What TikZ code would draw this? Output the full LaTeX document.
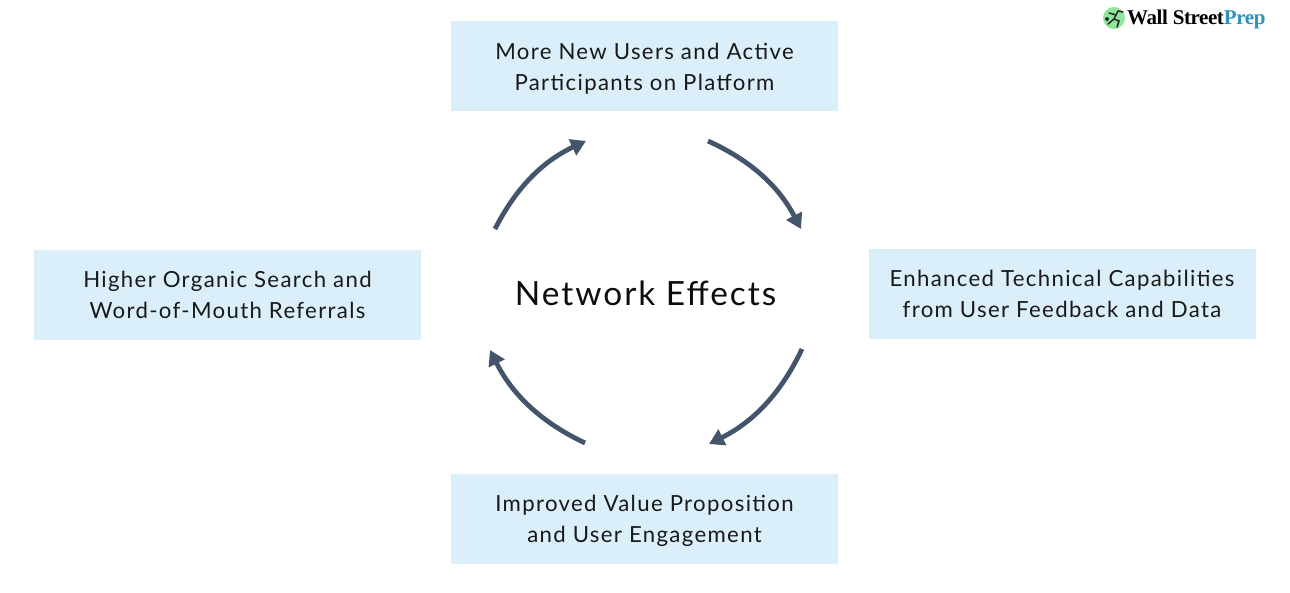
\documentclass[tikz,border=0pt]{standalone}
\usepackage{fontspec}
\setmainfont{Lato}[LetterSpace=6]
\newfontfamily\logofont{Liberation Serif}[LetterSpace=-2]
\usetikzlibrary{arrows.meta}
\definecolor{boxblue}{HTML}{DBEFFA}
\definecolor{arrowblue}{HTML}{44546A}
\definecolor{prepblue}{HTML}{2E93B8}
\definecolor{logogreen}{HTML}{8FE69A}
\tikzset{
  card/.style={fill=boxblue,draw=none,minimum width=387pt,minimum height=90pt,inner sep=0pt},
  cardtext/.style={inner sep=0pt,align=center,font=\fontsize{22.2}{31}\selectfont,text=black!90},
  cyc/.style={draw=arrowblue,line width=4.8pt,-{Triangle[length=15pt,width=17pt]}},
  runner/.style={draw=black!85,line width=1.5pt,line cap=round}
}
\begin{document}
\begin{tikzpicture}[x=1pt,y=-1pt]
\useasboundingbox[fill=white] (0,0) rectangle (1290,593);
\node[card] (top) at (644.5,66.5) {};
\node[card] (right) at (1062,294) {};
\node[card] (bottom) at (644.5,518.5) {};
\node[card] (left) at (227.5,295) {};
\node[cardtext] (toptext) at (644.5,68.5) {More New Users and Active\\Participants on Platform};
\node[cardtext] (righttext) at (1062,293.5) {Enhanced Technical Capabilities\\from User Feedback and Data};
\node[cardtext] (bottomtext) at (644.5,521) {Improved Value Proposition\\and User Engagement};
\node[cardtext] (lefttext) at (227.5,295) {Higher Organic Search and\\Word-of-Mouth Referrals};
\node[font=\fontsize{33.4}{40}\selectfont,text=black!95] (center) at (645.5,293) {Network Effects};
\coordinate (a1s) at (495,229); \coordinate (a1e) at (586,141);
\coordinate (a2s) at (708,141); \coordinate (a2e) at (801,229);
\coordinate (a3s) at (802,349); \coordinate (a3e) at (709,444);
\coordinate (a4s) at (585,443); \coordinate (a4e) at (490,350);
\draw[cyc] (a1s) to[bend left=19,looseness=.95] (a1e);
\draw[cyc] (a2s) to[bend left=19,looseness=.95] (a2e);
\draw[cyc] (a3s) to[bend left=19,looseness=.95] (a3e);
\draw[cyc] (a4s) to[bend left=19,looseness=.95] (a4e);
% logo
\node[circle,fill=logogreen,minimum size=22pt,inner sep=0pt] (badge) at (1114,18) {};
\draw[runner] (1108,24) -- (1114,19) -- (1118,11) -- (1123,12);
\draw[runner] (1116,15) -- (1109,13);
\draw[runner] (1114,19) -- (1119,21) -- (1117,27);
\node[circle,fill=black!85,minimum size=4pt,inner sep=0pt] (ball) at (1107,19) {};
\node[anchor=west,inner sep=0pt,font=\logofont\bfseries\fontsize{21}{21}\selectfont] (brand) at (1127,19.5) {Wall Street\textcolor{prepblue}{Prep}};
\end{tikzpicture}
\end{document}
